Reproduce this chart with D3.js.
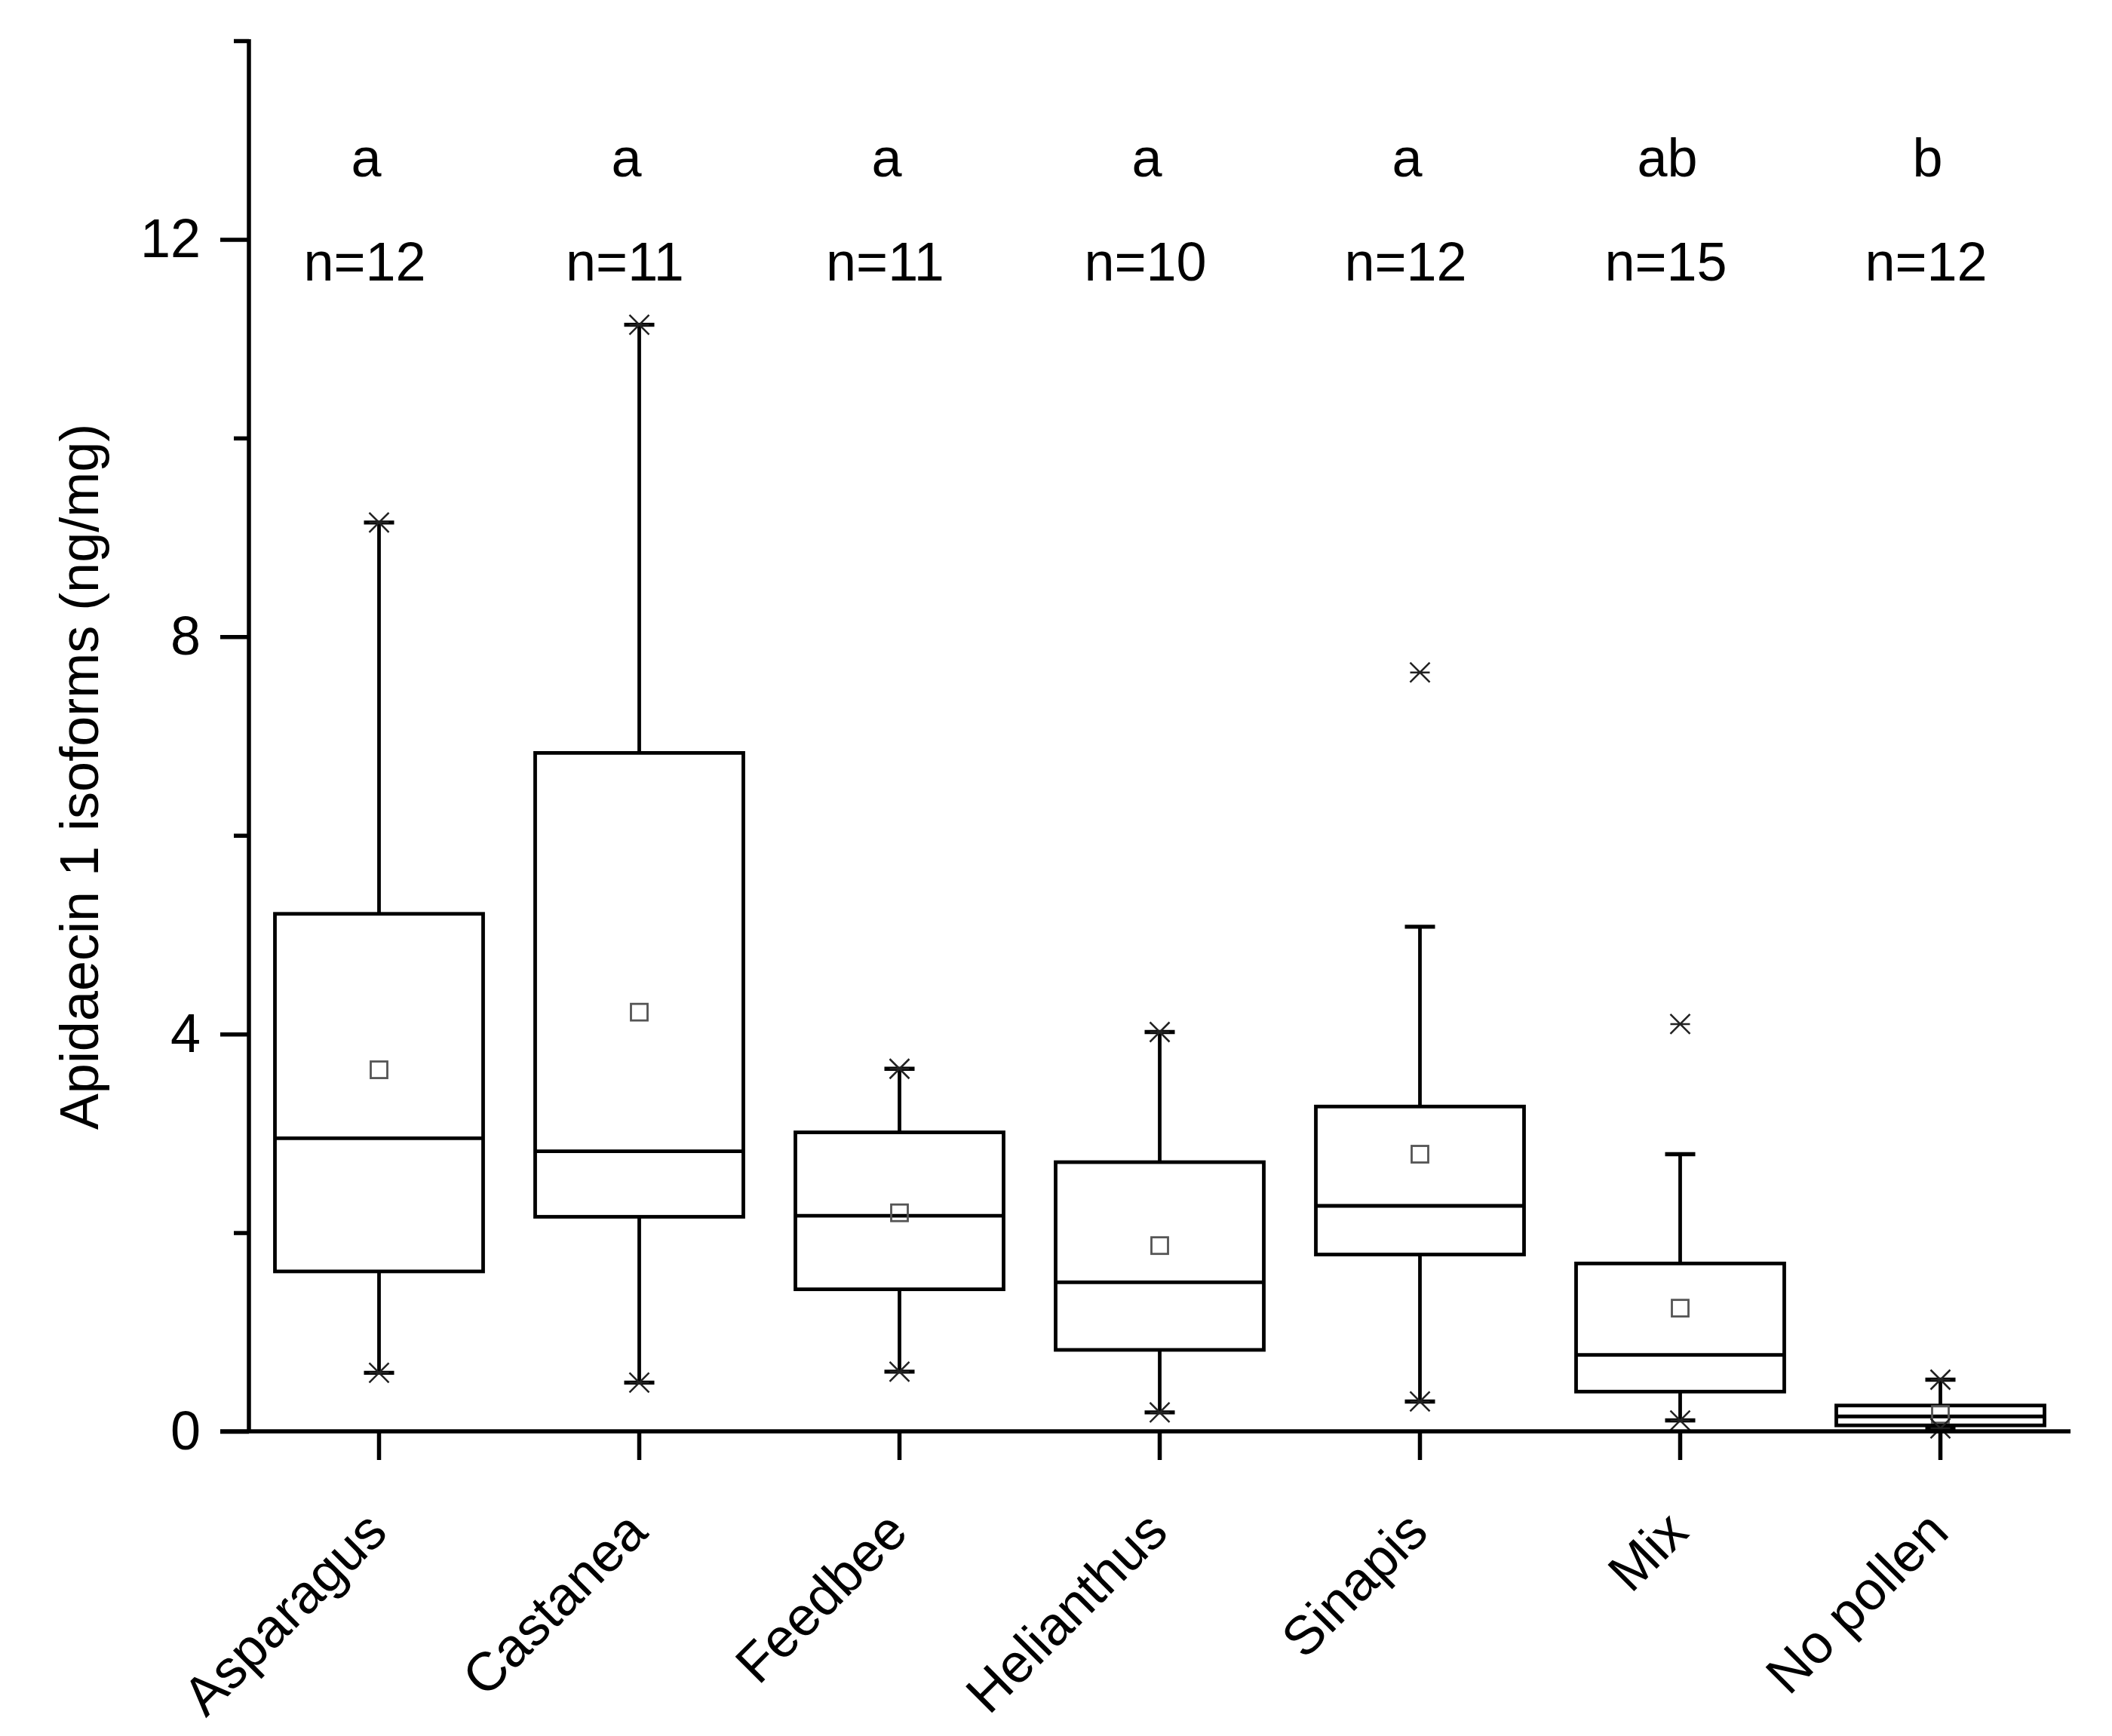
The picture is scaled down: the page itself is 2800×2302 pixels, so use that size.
<html>
<head>
  <meta http-equiv="Content-Type" content="text/html;charset=utf-8"/>
  <script src="https://cdn.jsdelivr.net/npm/d3@7"></script>
  <style>
    body { margin: 0; background: #fff; }
    text { font-family: "Liberation Sans", Arial, sans-serif; fill: #000; }
  </style>
</head>
<body>
  <div id="chart"></div>
  <script>
  // values (ng/mg)
  var categories = ["Asparagus", "Castanea", "Feedbee", "Helianthus", "Sinapis", "Mix", "No pollen"];
  var q1 =         [1.61, 2.16, 1.43, 0.82, 1.78, 0.40, 0.06];
  var median =     [2.95, 2.82, 2.17, 1.50, 2.27, 0.77, 0.15];
  var q3 =         [5.21, 6.83, 3.01, 2.71, 3.27, 1.69, 0.26];
  var means =      [3.64, 4.22, 2.20, 1.87, 2.79, 1.24, 0.17];
  var whiskerLow = [0.59, 0.49, 0.60, 0.19, 0.30, 0.11, 0.03];
  var whiskerHigh = [9.15, 11.14, 3.65, 4.02, 5.08, 2.79, 0.52];
  var minVals =    [0.59, 0.49, 0.60, 0.19, 0.30, 0.11, 0.03];
  var maxVals =    [9.15, 11.14, 3.65, 4.02, 7.64, 4.10, 0.52];
  var letters =    ["a", "a", "a", "a", "a", "ab", "b"];
  var nLabels =    ["n=12", "n=11", "n=11", "n=10", "n=12", "n=15", "n=12"];
  var yTicks = [0, 4, 8, 12];
  var yMinorTicks = [2, 6, 10, 14];

  var width = 2800, height = 2302;
  var svg = d3.select('#chart').append('svg')
    .attr('width', width)
    .attr('height', height);
  svg.append('rect').attr('width', width).attr('height', height).attr('fill', '#fff');

  var x = d3.scaleBand().domain(categories).range([330, 2745]).padding(0);
  var y = d3.scaleLinear().domain([0, 14]).range([1898, 54]);

  var boxW = x.bandwidth() * 0.8;
  var capW = 40;
  var fs = 72;
  var lw = 4.8;

  var data = categories.map(function(c, i) {
    return { cat: c, q1: q1[i], med: median[i], q3: q3[i], mean: means[i],
             lo: whiskerLow[i], hi: whiskerHigh[i], min: minVals[i], max: maxVals[i],
             letter: letters[i], n: nLabels[i] };
  });

  var g = svg.selectAll('.box').data(data).enter().append('g')
    .attr('class', 'box')
    .attr('transform', function(d) { return 'translate(' + (x(d.cat) + x.bandwidth() / 2) + ',0)'; });

  // whiskers
  g.append('line').attr('x1', 0).attr('x2', 0)
    .attr('y1', function(d) { return y(d.q3); }).attr('y2', function(d) { return y(d.hi); })
    .attr('stroke', '#000').attr('stroke-width', lw);
  g.append('line').attr('x1', 0).attr('x2', 0)
    .attr('y1', function(d) { return y(d.q1); }).attr('y2', function(d) { return y(d.lo); })
    .attr('stroke', '#000').attr('stroke-width', lw);
  // caps
  g.selectAll('.cap').data(function(d) { return [d.lo, d.hi]; }).enter().append('line')
    .attr('class', 'cap')
    .attr('x1', -capW / 2).attr('x2', capW / 2)
    .attr('y1', function(v) { return y(v); }).attr('y2', function(v) { return y(v); })
    .attr('stroke', '#000').attr('stroke-width', lw + 0.5);

  // box
  g.append('rect')
    .attr('x', -boxW / 2).attr('width', boxW)
    .attr('y', function(d) { return y(d.q3); })
    .attr('height', function(d) { return y(d.q1) - y(d.q3); })
    .attr('fill', 'none').attr('stroke', '#000').attr('stroke-width', lw);
  g.append('line')
    .attr('x1', -boxW / 2).attr('x2', boxW / 2)
    .attr('y1', function(d) { return y(d.med); }).attr('y2', function(d) { return y(d.med); })
    .attr('stroke', '#000').attr('stroke-width', lw);

  // mean square
  g.append('rect')
    .attr('x', -11).attr('width', 22)
    .attr('y', function(d) { return y(d.mean) - 11; }).attr('height', 22)
    .attr('fill', 'none').attr('stroke', '#555').attr('stroke-width', 2.8);

  // min / max markers (x with a bar)
  var m = 13;
  var star = g.selectAll('.star').data(function(d) { return [d.min, d.max]; }).enter().append('g')
    .attr('class', 'star')
    .attr('transform', function(v) { return 'translate(0,' + y(v) + ')'; });
  star.append('path')
    .attr('d', 'M' + (-m) + ',' + (-m) + 'L' + m + ',' + m + 'M' + (-m) + ',' + m + 'L' + m + ',' + (-m) + 'M' + (-m) + ',0L' + m + ',0')
    .attr('stroke', '#222').attr('stroke-width', 2.5).attr('fill', 'none');

  // significance letters and n
  g.append('text')
    .attr('x', -17).attr('y', 234)
    .attr('text-anchor', 'middle')
    .style('font-size', fs + 'px')
    .text(function(d) { return d.letter; });
  g.append('text')
    .attr('x', -19).attr('y', 372)
    .attr('text-anchor', 'middle')
    .style('font-size', fs + 'px')
    .text(function(d) { return d.n; });

  // y axis
  var yAxis = svg.append('g').attr('transform', 'translate(330,0)');
  yAxis.call(d3.axisLeft(y).tickValues(yTicks).tickSize(38).tickPadding(26).tickFormat(d3.format('d')));
  yAxis.append('g').call(d3.axisLeft(y).tickValues(yMinorTicks).tickSize(20).tickFormat(''));
  yAxis.selectAll('.domain').remove();
  yAxis.append('line').attr('x1', 0).attr('x2', 0).attr('y1', y(14) - 2).attr('y2', y(0))
    .attr('stroke', '#000').attr('stroke-width', 5.5);
  yAxis.selectAll('.tick line').attr('stroke', '#000').attr('stroke-width', 5.5);
  yAxis.selectAll('.tick text')
    .style('font-size', fs + 'px')
    .style('font-family', '"Liberation Sans", Arial, sans-serif')
    .attr('fill', '#000');

  // x axis
  var xAxis = svg.append('g').attr('transform', 'translate(0,' + y(0) + ')');
  xAxis.call(d3.axisBottom(x).tickSize(38).tickFormat(''));
  xAxis.selectAll('.domain').remove();
  xAxis.append('line').attr('x1', 292).attr('x2', 2745).attr('y1', 0).attr('y2', 0)
    .attr('stroke', '#000').attr('stroke-width', 5.5);
  xAxis.selectAll('.tick line').attr('stroke', '#000').attr('stroke-width', 5.5);

  svg.selectAll('.xlabel').data(categories).enter().append('text')
    .attr('class', 'xlabel')
    .attr('text-anchor', 'end')
    .style('font-size', fs + 'px')
    .attr('transform', function(c) {
      return 'translate(' + (x(c) + x.bandwidth() / 2 + 14) + ',' + (y(0) + 137) + ') rotate(-45)';
    })
    .text(function(c) { return c; });

  // y title
  svg.append('text')
    .attr('text-anchor', 'middle')
    .style('font-size', fs + 'px')
    .attr('transform', 'translate(130,1030) rotate(-90)')
    .text('Apidaecin 1 isoforms (ng/mg)');
  </script>
</body>
</html>
